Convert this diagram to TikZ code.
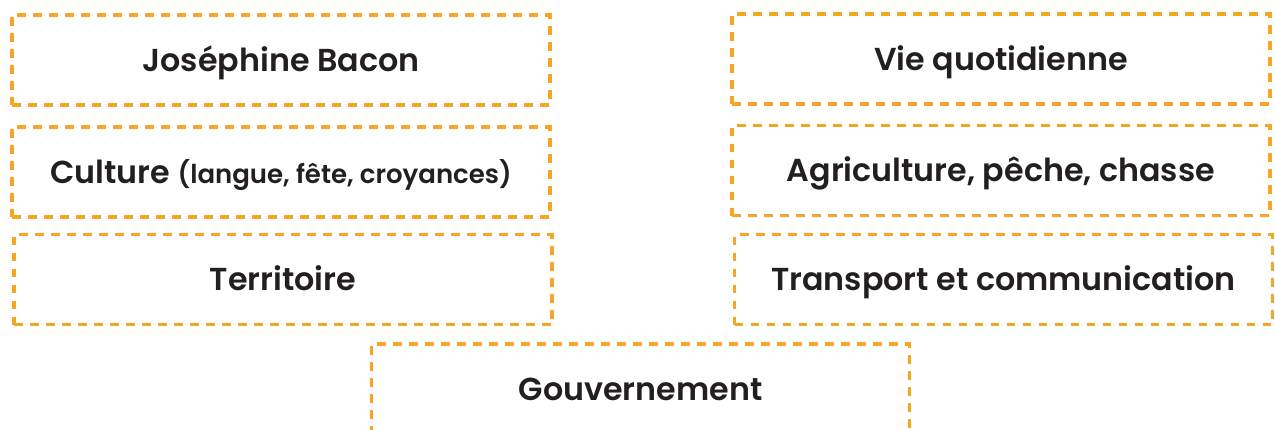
\documentclass[tikz,border=0pt]{standalone}
\usepackage{fontspec}
\setmainfont{Poppins}[UprightFont=* Medium, BoldFont=* SemiBold]
\definecolor{boxorange}{RGB}{247,166,35}
\definecolor{txt}{RGB}{35,31,32}
\tikzset{
  dbox/.style={draw=boxorange, line width=2.3pt, dash pattern=on 6.5pt off 5.5pt,
    minimum width=403.5pt, minimum height=67.5pt, inner sep=0pt,
    text height=16.5pt, text depth=0pt,
    text=txt, font=\fontsize{23.8}{27}\selectfont\bfseries},
}
\begin{document}
\begin{tikzpicture}[x=0.75pt,y=-0.75pt]
\useasboundingbox (0,0) rectangle (1275,429);
\begin{scope}
\clip (0,0) rectangle (1275,429);
\node[dbox] (jb) at (281,60) {Joséphine Bacon};
\node[dbox] (cu) at (281,172) {Culture {\fontsize{19.5}{22}\selectfont (langue, fête, croyances)}};
\node[dbox] (te) at (283,279.5) {Territoire};
\node[dbox] (vq) at (1001,59) {Vie quotidienne};
\node[dbox] (ag) at (1001,170.5) {Agriculture, pêche, chasse};
\node[dbox] (tr) at (1003.5,279.5) {Transport et communication};
\node[dbox] (go) at (640.5,389) {Gouvernement};
\end{scope}
\end{tikzpicture}
\end{document}
